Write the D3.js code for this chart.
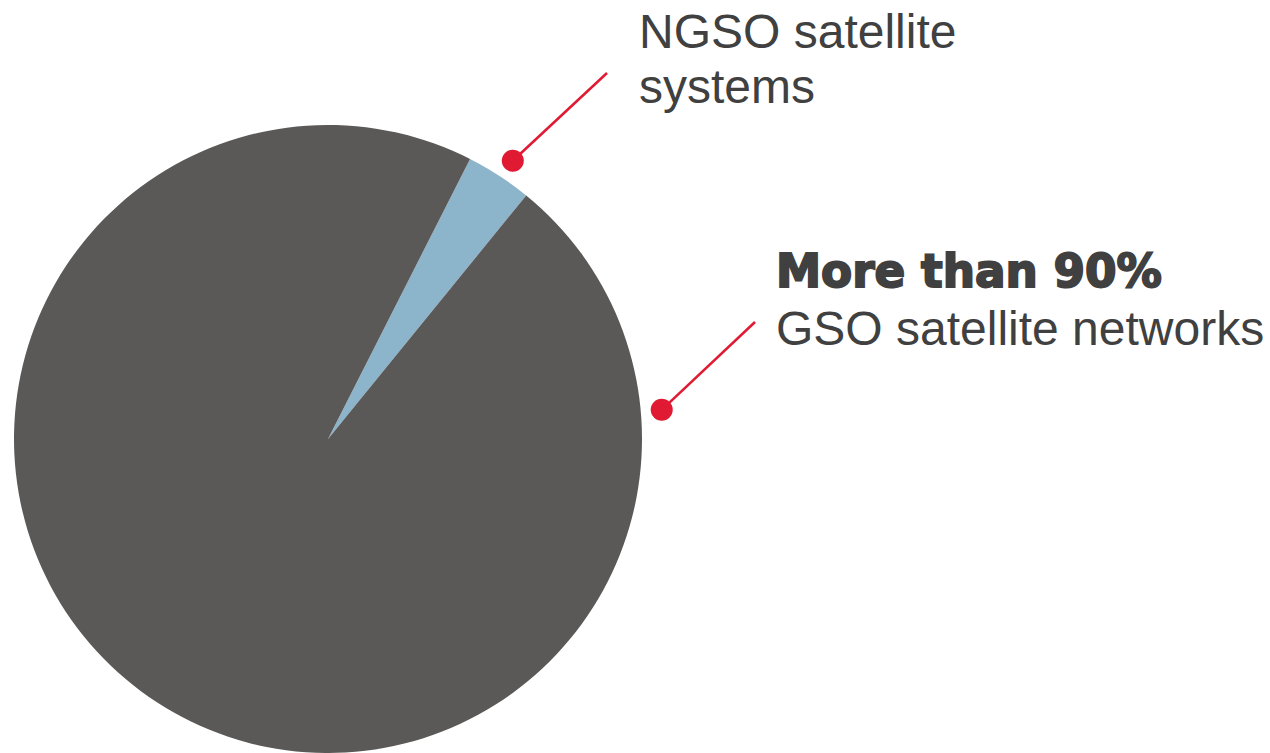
<!DOCTYPE html>
<meta charset="utf-8">
<script src="https://d3js.org/d3.v7.min.js"></script>
<style>
  body { margin: 0; background: #fff; }
</style>
<div id="chart"></div>
<script>
  // data
  const segments = ["NGSO satellite systems", "GSO satellite networks"]
  const shares = [3.4, 96.6]
  const colours = ["#8cb4cb", "#5b5957"]

  const width = 1270
  const height = 753
  const cx = 328, cy = 439, radius = 314

  const svg = d3.select("#chart")
    .append("svg")
      .attr("width", width)
      .attr("height", height)

  const pie = d3.pie()
    .sort(null)
    .startAngle(26.9 * Math.PI / 180)
    .endAngle(26.9 * Math.PI / 180 + 2 * Math.PI)

  const arcs = pie(shares)

  const arc = d3.arc().innerRadius(0).outerRadius(radius)

  const g = svg.append("g").attr("transform", `translate(${cx},${cy})`)

  g.selectAll("path")
    .data(arcs)
    .join("path")
      .attr("d", arc)
      .attr("fill", (d, i) => colours[i])

  // callouts: dot just outside the rim, line out to the label
  const red = "#e01a33"
  const dotAt = (angle, r) => [cx + r * Math.sin(angle), cy - r * Math.cos(angle)]

  const ngso = arcs[0]
  const p1 = dotAt((ngso.startAngle + ngso.endAngle) / 2 + 0.01, 334)
  const p2 = dotAt(85 * Math.PI / 180, 335)

  const callouts = [
    { from: p1, to: [607, 73] },
    { from: p2, to: [755, 322] }
  ]

  svg.selectAll("line.callout")
    .data(callouts)
    .join("line")
      .attr("class", "callout")
      .attr("x1", d => d.from[0]).attr("y1", d => d.from[1])
      .attr("x2", d => d.to[0]).attr("y2", d => d.to[1])
      .attr("stroke", red)
      .attr("stroke-width", 2.5)

  svg.selectAll("circle.dot")
    .data(callouts)
    .join("circle")
      .attr("class", "dot")
      .attr("cx", d => d.from[0]).attr("cy", d => d.from[1])
      .attr("r", 11)
      .attr("fill", red)

  const textCol = "#404040"
  const font = "'Liberation Sans', Arial, sans-serif"

  const t1 = svg.append("text")
    .attr("x", 639).attr("y", 48)
    .attr("font-family", font).attr("font-size", 48)
    .attr("fill", textCol)
  t1.append("tspan").attr("x", 639).text("NGSO satellite")
  t1.append("tspan").attr("x", 639).attr("dy", 55).text("systems")

  svg.append("text")
    .attr("x", 776).attr("y", 287)
    .attr("font-family", "'DejaVu Sans', sans-serif")
    .attr("font-weight", "bold")
    .attr("font-size", 47)
    .attr("fill", textCol)
    .attr("stroke", textCol).attr("stroke-width", 2)
    .attr("textLength", 386)
    .attr("lengthAdjust", "spacingAndGlyphs")
    .text("More than 90%")

  svg.append("text")
    .attr("x", 776).attr("y", 345)
    .attr("font-family", font).attr("font-size", 48)
    .attr("fill", textCol)
    .text("GSO satellite networks")
</script>
